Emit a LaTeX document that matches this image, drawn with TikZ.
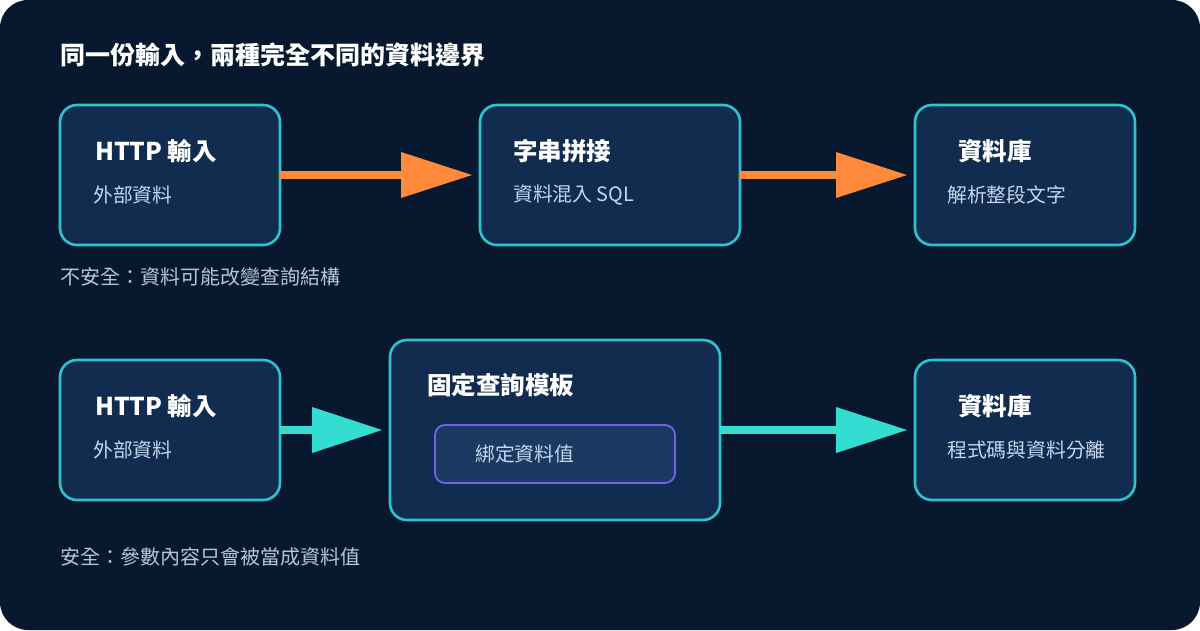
\documentclass[tikz,border=0pt]{standalone}
\usepackage{fontspec}
\setmainfont{Noto Sans CJK TC}
\definecolor{bgnavy}{HTML}{08192F}
\definecolor{boxfill}{HTML}{122C4F}
\definecolor{boxline}{HTML}{2EC4CF}
\definecolor{innerfill}{HTML}{1A3A62}
\definecolor{innerline}{HTML}{7463E8}
\definecolor{orangeA}{HTML}{FF8A3C}
\definecolor{cyanA}{HTML}{33DDD2}
\definecolor{subtxt}{HTML}{C5D6EE}
\definecolor{captxt}{HTML}{B4C5DD}
\tikzset{
  card/.style={draw=boxline, line width=2.6pt, fill=boxfill, rounded corners=17pt},
  inner card/.style={draw=innerline, line width=1.8pt, fill=innerfill, rounded corners=10pt},
  ttl/.style={anchor=west, inner sep=0pt, text=white, font=\bfseries\fontsize{24.5}{28}\selectfont},
  sub/.style={anchor=west, inner sep=0pt, text=subtxt, font=\fontsize{19.8}{23}\selectfont},
  captext/.style={anchor=west, inner sep=0pt, text=captxt, font=\fontsize{20}{23}\selectfont},
  shaft/.style={line width=8pt},
}
\begin{document}
\begin{tikzpicture}[x=1pt,y=-1pt]
\useasboundingbox (0,0) rectangle (1200,630);
\fill[white] (0,0) rectangle (1200,630);
\fill[bgnavy, rounded corners=28pt] (0,0) rectangle (1200,630);

\node[anchor=west, inner sep=0pt, text=white, font=\bfseries\fontsize{25}{28}\selectfont] (title) at (60,55) {同一份輸入，兩種完全不同的資料邊界};

% top row
\draw[card] (60,105) rectangle (280,245);
\draw[card] (480,105) rectangle (740,245);
\draw[card] (915,105) rectangle (1135,245);
\coordinate (b1e) at (280,175);
\coordinate (b2e) at (740,175);
\node[ttl] (t1) at (95,151) {HTTP 輸入};
\node[sub] (s1) at (93,195) {外部資料};
\node[ttl] (t2) at (513,151) {字串拼接};
\node[sub] (s2) at (513,195) {資料混入 SQL};
\node[ttl] (t3) at (958,151) {資料庫};
\node[sub] (s3) at (947,195) {解析整段文字};

\draw[orangeA, shaft] (b1e) -- (402,175);
\fill[orangeA] (401,152) -- (472,175) -- (401,198) -- cycle;
\draw[orangeA, shaft] (b2e) -- (837,175);
\fill[orangeA] (836,152) -- (907,175) -- (836,198) -- cycle;

\node[captext] (c1) at (60,277) {不安全：資料可能改變查詢結構};

% bottom row
\draw[card] (60,360) rectangle (280,500);
\draw[card] (390,340) rectangle (720,520);
\draw[inner card] (435,425) rectangle (675,483);
\draw[card] (915,360) rectangle (1135,500);
\coordinate (b4e) at (280,430);
\coordinate (b5e) at (720,430);
\node[ttl] (t4) at (95,406) {HTTP 輸入};
\node[sub] (s4) at (93,450) {外部資料};
\node[ttl] (t5) at (427,385) {固定查詢模板};
\node[sub] (s5) at (475,454) {綁定資料值};
\node[ttl] (t6) at (958,406) {資料庫};
\node[sub] (s6) at (947,450) {程式碼與資料分離};

\draw[cyanA, shaft] (b4e) -- (313,430);
\fill[cyanA] (312,407) -- (382,430) -- (312,453) -- cycle;
\draw[cyanA, shaft] (b5e) -- (837,430);
\fill[cyanA] (836,407) -- (907,430) -- (836,453) -- cycle;

\node[captext] (c2) at (60,557) {安全：參數內容只會被當成資料值};
\end{tikzpicture}
\end{document}
